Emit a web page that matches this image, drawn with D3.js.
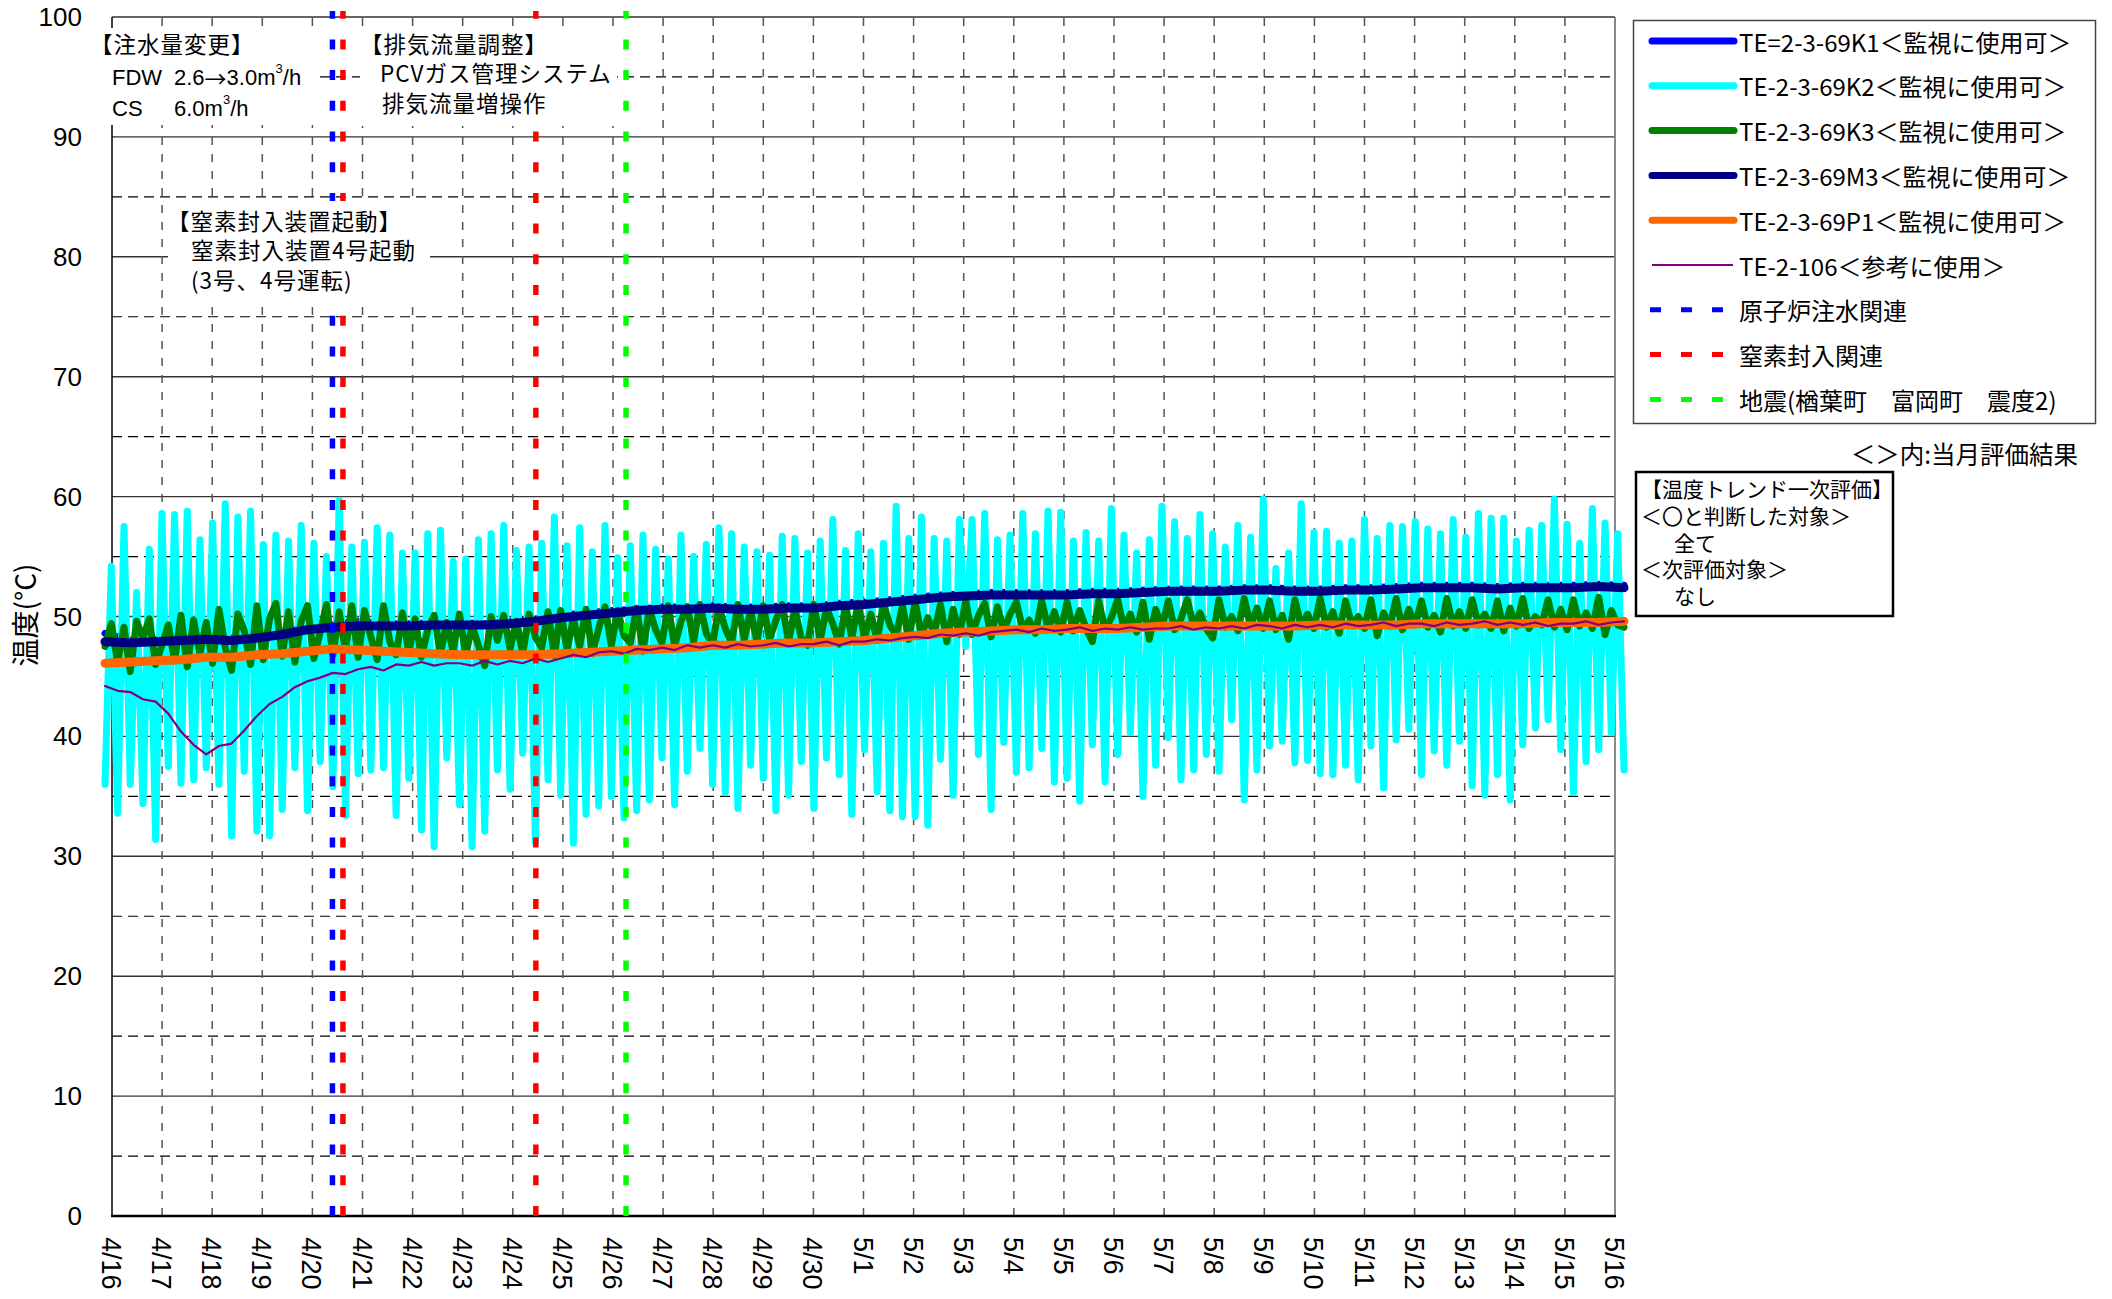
<!DOCTYPE html>
<html>
<head>
<meta charset="utf-8">
<script src="https://cdn.jsdelivr.net/npm/d3@7"></script>
<style>
  body { margin: 0; background: #fff; }
  svg text { font-family: "Noto Sans CJK JP", sans-serif; fill: #000; }
  svg .num { font-family: "Liberation Sans", Arial, sans-serif; }
</style>
</head>
<body>
<svg id="chart" width="2112" height="1299"></svg>
<script>
/* ------------------------------------------------------------------
 * data (deg C)
 * ------------------------------------------------------------------ */

var dayLabels = ['4/16','4/17','4/18','4/19','4/20','4/21','4/22','4/23','4/24','4/25','4/26',
                 '4/27','4/28','4/29','4/30','5/1','5/2','5/3','5/4','5/5','5/6','5/7',
                 '5/8','5/9','5/10','5/11','5/12','5/13','5/14','5/15','5/16'];

// first / last sample time, in days from 4/16 0:00
var tFirst = -0.14, tLast = 30.18;

// TE-2-3-69K2 swings: first value, then successive highs and lows
var k2First = 36.0;
var k2High = [54.2,57.5,52.0,55.6,58.6,58.5,58.8,56.4,57.8,59.4,58.3,58.8,56.0,56.8,56.3,57.6,56.1,55.0,59.7,55.8,56.2,57.4,56.8,55.3,
              55.3,56.9,57.2,54.6,54.8,56.4,56.9,57.6,55.5,55.8,56.1,58.3,55.9,57.4,55.4,57.6,54.9,55.9,56.8,55.6,54.8,56.8,55.0,56.0,
              57.4,56.9,55.8,55.4,55.1,56.7,56.5,55.3,56.3,58.1,55.5,56.9,55.4,56.1,59.2,56.5,58.3,56.5,56.3,58.1,58.1,58.6,56.4,56.8,
              58.6,56.9,58.8,58.7,56.3,57.0,56.3,59.0,56.8,55.3,56.4,59.2,57.9,56.5,58.5,56.9,55.8,57.6,56.6,59.8,54.0,55.3,59.4,57.0,
              57.1,56.1,56.3,58.1,56.5,57.6,57.5,57.9,57.3,56.9,58.1,56.6,58.6,58.2,58.2,56.3,57.2,57.6,59.8,57.7,56.1,59.0,57.8,56.9];
var k2Low  = [33.6,36.0,34.4,31.4,37.5,36.1,36.4,37.4,36.0,31.7,37.1,32.1,31.7,33.9,37.4,33.8,37.9,35.8,33.4,36.9,37.2,37.4,33.4,36.5,
              32.2,30.8,38.2,34.3,30.8,32.1,37.2,35.6,38.6,31.2,36.4,35.1,31.1,33.5,34.2,35.0,33.2,33.8,34.7,38.2,34.3,37.1,39.0,36.0,
              35.3,34.0,37.6,36.5,33.8,35.1,37.9,34.0,38.2,36.8,33.5,38.9,35.4,33.8,33.3,33.3,32.6,38.1,35.1,47.5,38.5,33.9,39.5,37.0,
              37.4,39.0,36.2,36.5,34.6,39.3,36.2,38.5,40.3,35.0,37.6,39.9,36.4,37.2,38.5,37.1,41.4,34.7,37.2,39.2,39.6,37.8,38.0,36.9,
              36.8,37.6,36.4,39.2,35.7,39.7,40.6,36.8,38.8,37.6,39.6,35.9,35.1,36.8,34.7,39.3,40.7,41.4,38.9,35.3,37.9,38.9,40.3,37.2];

// TE-2-3-69K3, every 3 h
var k3 = [47.5,49.4,46.2,49.1,45.4,49.6,48.2,49.8,  46.0,47.6,49.3,46.3,50.1,45.8,49.7,46.9,
          49.5,46.1,50.6,47.4,45.5,50.2,48.8,46.0,  50.9,46.4,49.8,51.1,46.7,50.4,46.2,49.6,
          50.9,46.5,48.7,51.0,46.8,50.4,47.2,50.9,  46.6,50.5,48.3,46.4,50.9,47.9,46.8,50.3,
          47.0,49.8,46.6,48.9,50.1,46.9,49.5,47.1,  50.2,46.8,49.2,47.6,45.9,50.0,48.0,50.1,
          47.3,49.6,46.9,50.2,48.3,47.4,50.4,46.7,  50.5,47.2,49.8,47.5,50.6,46.9,49.0,50.8,
          47.6,50.5,48.4,47.8,50.7,47.1,50.6,48.9,  47.8,50.9,47.5,49.6,50.8,47.9,51.0,48.6,
          47.7,50.8,49.0,47.8,51.0,48.1,50.5,47.9,  50.9,48.1,49.7,51.0,47.9,50.6,48.2,47.6,
          51.0,48.0,50.7,49.4,47.7,50.9,48.2,51.1,  48.2,50.2,48.0,51.1,49.3,48.4,50.9,48.1,
          51.2,48.4,49.9,48.6,51.0,47.9,50.6,48.5,  51.3,48.5,50.1,51.1,48.3,50.8,48.8,50.2,
          51.2,48.9,49.7,48.6,51.3,49.0,50.4,48.7,  51.2,48.8,50.5,49.0,47.9,51.3,48.9,49.9,
          51.4,49.0,50.2,48.7,51.2,48.1,50.6,49.1,  51.3,48.9,49.8,51.4,49.2,50.3,49.0,48.2,
          51.4,49.1,50.0,48.8,51.5,49.2,50.7,49.0,  51.3,48.9,50.1,48.1,51.4,49.2,50.2,49.0,
          51.5,49.1,50.4,48.6,51.3,49.3,50.0,49.0,  51.4,48.4,50.3,49.2,51.5,48.9,50.6,49.3,
          51.3,49.1,50.1,48.7,51.5,49.2,50.4,49.0,  51.4,49.3,50.2,49.0,51.3,48.8,50.7,49.2,
          51.5,49.0,50.0,49.3,51.4,49.1,50.6,48.9,  51.4,49.2,50.3,49.0,51.6,48.5,50.5,49.3,
          49.1];

// TE-2-3-69M3, every 12 h
var m3 = [47.9,47.8,47.9,48.0,48.1,48.0,48.2,48.5,48.9,49.1,
          49.2,49.2,49.2,49.3,49.3,49.3,49.4,49.6,49.9,50.1,
          50.3,50.5,50.6,50.6,50.7,50.6,50.6,50.7,50.7,50.9,
          51.0,51.2,51.4,51.6,51.7,51.8,51.8,51.8,51.8,51.9,
          51.9,52.0,52.1,52.1,52.1,52.2,52.2,52.1,52.1,52.2,
          52.2,52.3,52.4,52.4,52.4,52.3,52.4,52.4,52.4,52.5,
          52.4];

// TE-2-3-69K1, every 12 h
var k1 = [48.6,48.0,48.1,48.3,48.2,48.2,48.4,48.7,49.1,49.3,
          49.6,49.4,49.4,49.5,49.5,49.4,49.6,49.8,50.1,50.3,
          50.5,50.6,50.8,50.8,50.9,50.8,50.8,50.9,50.9,51.1,
          51.2,51.4,51.6,51.8,51.9,52.0,52.0,52.0,52.0,52.1,
          52.1,52.2,52.3,52.3,52.3,52.4,52.4,52.3,52.3,52.4,
          52.4,52.5,52.6,52.6,52.6,52.5,52.6,52.6,52.6,52.7,
          52.6];

// TE-2-3-69P1, every 12 h
var p1 = [46.1,46.2,46.3,46.4,46.6,46.6,46.8,46.9,47.1,47.3,
          47.2,47.1,47.0,46.9,46.8,46.8,46.8,46.8,46.9,47.0,
          47.1,47.2,47.3,47.4,47.6,47.6,47.7,47.8,47.8,47.9,
          48.0,48.2,48.4,48.6,48.7,48.8,48.9,48.9,49.0,49.0,
          49.0,49.1,49.2,49.2,49.2,49.2,49.2,49.2,49.3,49.3,
          49.3,49.3,49.4,49.4,49.4,49.4,49.4,49.5,49.5,49.5,
          49.6];

// TE-2-106, every 6 h
var te106 = [44.2,43.8,43.7,43.1, 42.9,41.9,40.4,39.3, 38.5,39.2,39.4,40.5, 41.7,42.7,43.3,44.1,
             44.6,44.9,45.3,45.2, 45.6,45.8,45.5,46.0, 45.9,46.2,45.9,46.1, 46.1,45.9,46.3,46.0,
             46.3,46.1,46.5,46.2, 46.5,46.8,46.6,47.0, 47.1,46.9,47.3,47.2, 47.4,47.2,47.6,47.4,
             47.6,47.4,47.7,47.5, 47.6,47.8,47.5,47.7, 47.7,47.9,47.6,47.9, 47.9,48.1,48.0,48.2,
             48.3,48.2,48.5,48.4, 48.6,48.4,48.7,48.8, 48.9,48.7,49.0,48.8, 48.9,49.1,48.8,49.0,
             48.9,49.1,48.9,49.0, 49.0,49.2,48.9,49.1, 49.0,49.2,49.0,49.3, 49.2,49.0,49.3,49.1,
             49.3,49.1,49.4,49.2, 49.3,49.5,49.2,49.4, 49.4,49.2,49.5,49.3, 49.4,49.6,49.3,49.5,
             49.3,49.5,49.2,49.4, 49.4,49.6,49.3,49.5, 49.6];

// event lines (days from 4/16 0:00)
var eventDays   = [4.40, 4.61, 8.46, 10.26];
var eventColors = ['#0000ff', '#ff0000', '#ff0000', '#00ff00'];

var seriesNames = ['TE=2-3-69K1＜監視に使用可＞', 'TE-2-3-69K2＜監視に使用可＞', 'TE-2-3-69K3＜監視に使用可＞',
                   'TE-2-3-69M3＜監視に使用可＞', 'TE-2-3-69P1＜監視に使用可＞', 'TE-2-106＜参考に使用＞'];
var seriesColors = ['#0000ff', '#00ffff', '#008000', '#000080', '#ff6600', '#800080'];
var eventNames = ['原子炉注水関連', '窒素封入関連', '地震(楢葉町　富岡町　震度2)'];
var eventLegendColors = ['#0000ff', '#ff0000', '#00ff00'];

/* ------------------------------------------------------------------ */

var svg = d3.select('#chart');

var x = d3.scaleLinear().domain([0, 30]).range([112, 1615]);
var y = d3.scaleLinear().domain([0, 100]).range([1216, 17]);

function spread(vals) {
  var step = (tLast - tFirst) / (vals.length - 1);
  return vals.map(function(v, i) { return { t: tFirst + i * step, v: v }; });
}

var k2 = [k2First];
k2High.forEach(function(h, i) { k2.push(h); k2.push(k2Low[i]); });

var line = d3.line()
  .x(function(d) { return x(d.t); })
  .y(function(d) { return y(d.v); });

// grid
var grid = svg.append('g');
d3.range(5, 100, 10).forEach(function(v) {
  grid.append('line').attr('x1', x(0)).attr('x2', x(30)).attr('y1', y(v)).attr('y2', y(v))
    .attr('stroke', '#000').attr('stroke-width', 1.2).attr('stroke-dasharray', '10,6');
});
d3.range(10, 101, 10).forEach(function(v) {
  grid.append('line').attr('x1', x(0)).attr('x2', x(30)).attr('y1', y(v)).attr('y2', y(v))
    .attr('stroke', '#333').attr('stroke-width', 1.4);
});
d3.range(1, 30).forEach(function(d) {
  grid.append('line').attr('x1', x(d)).attr('x2', x(d)).attr('y1', y(0)).attr('y2', y(100))
    .attr('stroke', '#555').attr('stroke-width', 1.5).attr('stroke-dasharray', '8,9');
});
grid.append('line').attr('x1', x(30)).attr('x2', x(30)).attr('y1', y(0)).attr('y2', y(100))
  .attr('stroke', '#888').attr('stroke-width', 2);
grid.append('line').attr('x1', x(0)).attr('x2', x(0)).attr('y1', y(0)).attr('y2', y(100))
  .attr('stroke', '#000').attr('stroke-width', 1.5);
grid.append('line').attr('x1', x(0) - 1).attr('x2', x(30) + 1).attr('y1', y(0)).attr('y2', y(0))
  .attr('stroke', '#000').attr('stroke-width', 2.5);

// axis labels
svg.append('g').selectAll('text').data(y.ticks(10)).enter().append('text')
  .attr('class', 'num')
  .attr('x', 82).attr('y', function(d) { return y(d); })
  .attr('text-anchor', 'end').attr('dominant-baseline', 'central')
  .style('font-size', '26px')
  .text(function(d) { return d; });

svg.append('g').selectAll('text').data(dayLabels).enter().append('text')
  .attr('class', 'num')
  .attr('transform', function(d, i) { return 'translate(' + (x(i) - 1) + ',1237) rotate(90)'; })
  .attr('dominant-baseline', 'central')
  .style('font-size', '27px')
  .text(function(d) { return d; });

svg.append('text')
  .attr('transform', 'translate(24,615) rotate(-90)')
  .attr('text-anchor', 'middle').attr('dominant-baseline', 'central')
  .style('font-size', '28px')
  .text('温度(°C)');

// series, drawn in sheet order
var series = [
  { data: spread(k1),    w: 7 },
  { data: spread(k2),    w: 7 },
  { data: spread(k3),    w: 7 },
  { data: spread(m3),    w: 9 },
  { data: spread(p1),    w: 9 },
  { data: spread(te106), w: 2.2 }
];
var plot = svg.append('g');
series.forEach(function(s, i) {
  plot.append('path').datum(s.data)
    .attr('d', line)
    .attr('fill', 'none')
    .attr('stroke', seriesColors[i])
    .attr('stroke-width', s.w)
    .attr('stroke-linejoin', 'round')
    .attr('stroke-linecap', 'round');
});

// event lines
svg.append('g').selectAll('line').data(eventDays).enter().append('line')
  .attr('x1', function(d) { return x(d); }).attr('x2', function(d) { return x(d); })
  .attr('y1', y(0)).attr('y2', y(100) - 6)
  .attr('stroke', function(d, i) { return eventColors[i]; })
  .attr('stroke-width', 5.5)
  .attr('stroke-dasharray', '10,20.7');

// annotations: white boxes, then the note texts
var notes = svg.append('g');
notes.append('rect').attr('x', 90).attr('y', 28).attr('width', 226).attr('height', 97).attr('fill', '#fff');
notes.append('rect').attr('x', 360).attr('y', 27).attr('width', 257).attr('height', 99).attr('fill', '#fff');
notes.append('rect').attr('x', 168).attr('y', 201).attr('width', 262).attr('height', 97).attr('fill', '#fff');

// each line: [x, y, text]
function note(lines) {
  lines.forEach(function(l) {
    notes.append('text').attr('x', l[0]).attr('y', l[1])
      .attr('dominant-baseline', 'central')
      .style('font-size', '22.5px').style('letter-spacing', '1px')
      .text(l[2]);
  });
}

note([[90, 43, '【注水量変更】']]);

// flow lines with superscripts
function flow(ty, parts) {
  var t = notes.append('text').attr('class', 'num').attr('y', ty)
    .attr('dominant-baseline', 'central').style('font-size', '22px');
  parts.forEach(function(p) {
    var s = t.append('tspan').text(p.s);
    if (p.x !== undefined) s.attr('x', p.x);
    if (p.dy) s.attr('dy', p.dy);
    if (p.sup) s.style('font-size', '13px');
    if (p.cjk) s.style('font-family', '"Noto Sans CJK JP", sans-serif');
  });
}
flow(77, [{ s: 'FDW', x: 112 }, { s: '2.6', x: 174 }, { s: '→', cjk: true }, { s: '3.0m' },
          { s: '3', dy: -9, sup: true }, { s: '/h', dy: 9 }]);
flow(108, [{ s: 'CS', x: 112 }, { s: '6.0m', x: 174 }, { s: '3', dy: -9, sup: true }, { s: '/h', dy: 9 }]);

note([[360, 42.5, '【排気流量調整】'], [380, 72, 'PCVガス管理システム'], [382, 101.5, '排気流量増操作']]);
note([[167, 219.5, '【窒素封入装置起動】'], [191, 249, '窒素封入装置4号起動'], [191, 278.5, '(3号、4号運転)']]);

// legend
var legend = svg.append('g');
legend.append('rect').attr('x', 1633.5).attr('y', 20.5).attr('width', 462).attr('height', 403)
  .attr('fill', '#fff').attr('stroke', '#444').attr('stroke-width', 1.5);

var rowY = function(i) { return 41 + i * 44.8; };
seriesNames.forEach(function(name, i) {
  var last = i === seriesNames.length - 1;
  legend.append('line')
    .attr('x1', 1652).attr('x2', last ? 1733 : 1734)
    .attr('y1', rowY(i)).attr('y2', rowY(i))
    .attr('stroke', seriesColors[i]).attr('stroke-width', last ? 2.2 : 7)
    .attr('stroke-linecap', last ? 'butt' : 'round');
  legend.append('text').attr('x', 1739).attr('y', rowY(i))
    .attr('dominant-baseline', 'central').style('font-size', '24px').text(name);
});
eventNames.forEach(function(name, j) {
  var i = seriesNames.length + j;
  legend.append('line')
    .attr('x1', 1650).attr('x2', 1723)
    .attr('y1', rowY(i)).attr('y2', rowY(i))
    .attr('stroke', eventLegendColors[j]).attr('stroke-width', 5)
    .attr('stroke-dasharray', '11,20');
  legend.append('text').attr('x', 1739).attr('y', rowY(i))
    .attr('dominant-baseline', 'central').style('font-size', '24px').text(name);
});

svg.append('text').attr('x', 2078).attr('y', 453)
  .attr('text-anchor', 'end').attr('dominant-baseline', 'central')
  .style('font-size', '24.5px').text('＜＞内:当月評価結果');

// evaluation box
var box = svg.append('g');
box.append('rect').attr('x', 1636).attr('y', 472).attr('width', 257).attr('height', 144)
  .attr('fill', '#fff').attr('stroke', '#000').attr('stroke-width', 2.5);
var boxLines = ['【温度トレンド一次評価】', '＜〇と判断した対象＞', '全て', '＜次評価対象＞', 'なし'];
var boxIndent = [0, 0, 1, 0, 1];
boxLines.forEach(function(s, i) {
  box.append('text').attr('x', 1641 + boxIndent[i] * 33).attr('y', 488 + i * 26.8)
    .attr('dominant-baseline', 'central').style('font-size', '21px').text(s);
});
</script>
</body>
</html>
